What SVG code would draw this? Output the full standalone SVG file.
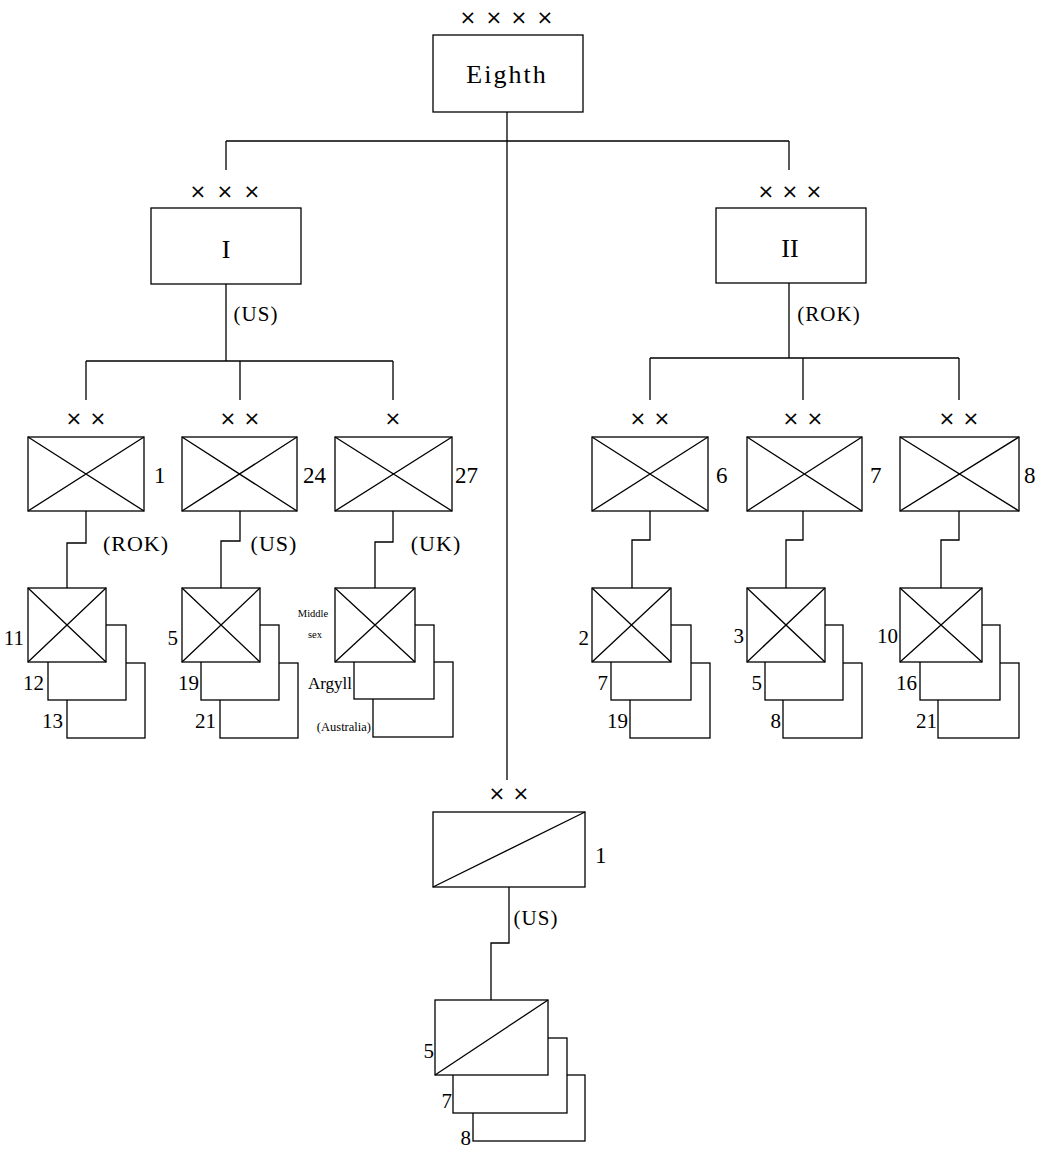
<svg xmlns="http://www.w3.org/2000/svg" width="1039" height="1152" viewBox="0 0 1039 1152">
<style>
.ln{stroke:#000;stroke-width:1.3;fill:none}
.bx{stroke:#000;stroke-width:1.3;fill:#fff}
.sym{font-family:"DejaVu Sans",sans-serif;font-size:20px;text-anchor:middle;fill:#000}
.big{font-family:"Liberation Serif",serif;font-size:26px;text-anchor:middle;fill:#000}
.div{font-family:"Liberation Serif",serif;font-size:23px;fill:#000}
.nat{font-family:"Liberation Serif",serif;font-size:22px;text-anchor:middle;fill:#000;letter-spacing:1px}
.reg{font-family:"Liberation Serif",serif;font-size:21px;text-anchor:end;fill:#000}
.sm{font-family:"Liberation Serif",serif;font-size:10.5px;text-anchor:middle;fill:#000}
</style>
<rect width="1039" height="1152" fill="#fff"/>

<g id="connectors" class="ln">
  <path d="M507,112 V780"/>
  <path d="M226,141 H789"/>
  <path d="M226,141 V170"/>
  <path d="M789,141 V170"/>
  <path d="M226,284 V361"/>
  <path d="M86,361 H393"/>
  <path d="M86,361 V400 M240,361 V400 M393,361 V400"/>
  <path d="M789,283 V358"/>
  <path d="M650,358 H959"/>
  <path d="M650,358 V400 M803,358 V400 M959,358 V400"/>
  <path d="M86,511 V543 H67 V588"/>
  <path d="M240,511 V541 H221 V588"/>
  <path d="M393,511 V542 H375 V588"/>
  <path d="M650,511 V540 H632 V588"/>
  <path d="M803,511 V540 H786 V588"/>
  <path d="M959,511 V540 H941 V588"/>
  <path d="M509,887 V943 H491 V1000"/>
</g>

<g id="eighth-army">
  <text class="sym" x="468 494 519 545" y="24">××××</text>
  <rect class="bx" x="433" y="35" width="150" height="77"/>
  <text class="big" x="507" y="83" style="letter-spacing:2px">Eighth</text>
</g>

<g id="i-corps">
  <text class="sym" x="198 225 252" y="198">×××</text>
  <rect class="bx" x="151" y="208" width="150" height="76"/>
  <text class="big" x="226" y="258">I</text>
  <text class="nat" x="256" y="321" style="font-size:21px">(US)</text>
</g>

<g id="ii-corps">
  <text class="sym" x="766 790 814" y="198">×××</text>
  <rect class="bx" x="716" y="208" width="150" height="75"/>
  <text class="big" x="790" y="257">II</text>
  <text class="nat" x="829" y="321" style="font-size:21px">(ROK)</text>
</g>

<!-- divisions -->
<g id="div-1-rok">
  <text class="sym" x="74 98" y="425">××</text>
  <rect class="bx" x="28" y="437" width="116" height="74"/>
  <path class="ln" d="M28,437 L144,511 M144,437 L28,511"/>
  <text class="div" x="154" y="483">1</text>
  <text class="nat" x="136" y="551">(ROK)</text>
</g>
<g id="div-24-us">
  <text class="sym" x="228 252" y="425">××</text>
  <rect class="bx" x="182" y="437" width="115" height="74"/>
  <path class="ln" d="M182,437 L297,511 M297,437 L182,511"/>
  <text class="div" x="303" y="483">24</text>
  <text class="nat" x="274" y="551">(US)</text>
</g>
<g id="bde-27-uk">
  <text class="sym" x="393" y="425">×</text>
  <rect class="bx" x="335" y="437" width="117" height="74"/>
  <path class="ln" d="M335,437 L452,511 M452,437 L335,511"/>
  <text class="div" x="455" y="483">27</text>
  <text class="nat" x="436" y="551">(UK)</text>
</g>
<g id="div-6-rok">
  <text class="sym" x="638 662" y="425">××</text>
  <rect class="bx" x="592" y="437" width="116" height="74"/>
  <path class="ln" d="M592,437 L708,511 M708,437 L592,511"/>
  <text class="div" x="716" y="483">6</text>
</g>
<g id="div-7-rok">
  <text class="sym" x="791 815" y="425">××</text>
  <rect class="bx" x="747" y="437" width="115" height="74"/>
  <path class="ln" d="M747,437 L862,511 M862,437 L747,511"/>
  <text class="div" x="870" y="483">7</text>
</g>
<g id="div-8-rok">
  <text class="sym" x="947 971" y="425">××</text>
  <rect class="bx" x="900" y="437" width="119" height="74"/>
  <path class="ln" d="M900,437 L1019,511 M1019,437 L900,511"/>
  <text class="div" x="1024" y="483">8</text>
</g>

<!-- 1st ROK regiments -->
<g id="reg-13">
  <rect class="bx" x="67" y="663" width="78" height="75"/>
  <text class="reg" x="63" y="728">13</text>
</g>
<g id="reg-12">
  <rect class="bx" x="48" y="625" width="78" height="75"/>
  <text class="reg" x="44" y="690">12</text>
</g>
<g id="reg-11">
  <rect class="bx" x="28" y="588" width="78" height="74"/>
  <path class="ln" d="M28,588 L106,662 M106,588 L28,662"/>
  <text class="reg" x="24" y="645">11</text>
</g>

<!-- 24th regiments -->
<g id="reg-21-us">
  <rect class="bx" x="220" y="663" width="78" height="75"/>
  <text class="reg" x="216" y="728">21</text>
</g>
<g id="reg-19-us">
  <rect class="bx" x="201" y="625" width="78" height="75"/>
  <text class="reg" x="199" y="690">19</text>
</g>
<g id="reg-5-us">
  <rect class="bx" x="182" y="588" width="78" height="74"/>
  <path class="ln" d="M182,588 L260,662 M260,588 L182,662"/>
  <text class="reg" x="178" y="645">5</text>
</g>

<!-- 27th brigade battalions -->
<g id="bn-australia">
  <rect class="bx" x="373" y="662" width="80" height="75"/>
  <text class="reg" x="371" y="731" style="font-size:12.5px">(Australia)</text>
</g>
<g id="bn-argyll">
  <rect class="bx" x="354" y="625" width="80" height="74"/>
  <text class="reg" x="352" y="689" style="font-size:17px">Argyll</text>
</g>
<g id="bn-middlesex">
  <rect class="bx" x="335" y="588" width="80" height="74"/>
  <path class="ln" d="M335,588 L415,662 M415,588 L335,662"/>
  <text class="sm" x="313" y="617">Middle</text>
  <text class="sm" x="315" y="638">sex</text>
</g>

<!-- 6th ROK regiments -->
<g id="reg-19-rok">
  <rect class="bx" x="630" y="663" width="80" height="75"/>
  <text class="reg" x="628" y="728">19</text>
</g>
<g id="reg-7-rok">
  <rect class="bx" x="611" y="625" width="80" height="75"/>
  <text class="reg" x="608" y="690">7</text>
</g>
<g id="reg-2-rok">
  <rect class="bx" x="592" y="588" width="79" height="74"/>
  <path class="ln" d="M592,588 L671,662 M671,588 L592,662"/>
  <text class="reg" x="589" y="645">2</text>
</g>

<!-- 7th ROK regiments -->
<g id="reg-8-rok">
  <rect class="bx" x="783" y="663" width="79" height="75"/>
  <text class="reg" x="781" y="728">8</text>
</g>
<g id="reg-5-rok">
  <rect class="bx" x="765" y="625" width="78" height="75"/>
  <text class="reg" x="762" y="690">5</text>
</g>
<g id="reg-3-rok">
  <rect class="bx" x="747" y="588" width="78" height="74"/>
  <path class="ln" d="M747,588 L825,662 M825,588 L747,662"/>
  <text class="reg" x="744" y="643">3</text>
</g>

<!-- 8th ROK regiments -->
<g id="reg-21-rok">
  <rect class="bx" x="938" y="663" width="81" height="75"/>
  <text class="reg" x="937" y="728">21</text>
</g>
<g id="reg-16-rok">
  <rect class="bx" x="920" y="625" width="80" height="75"/>
  <text class="reg" x="917" y="690">16</text>
</g>
<g id="reg-10-rok">
  <rect class="bx" x="900" y="588" width="82" height="74"/>
  <path class="ln" d="M900,588 L982,662 M982,588 L900,662"/>
  <text class="reg" x="898" y="643">10</text>
</g>

<!-- 1st Cavalry Division -->
<g id="div-1-cav">
  <text class="sym" x="497 521" y="800">××</text>
  <rect class="bx" x="433" y="812" width="152" height="75"/>
  <path class="ln" d="M433,887 L585,812"/>
  <text class="div" x="595" y="863">1</text>
  <text class="nat" x="536" y="925" style="font-size:21px">(US)</text>
</g>
<g id="cav-8">
  <rect class="bx" x="473" y="1075" width="112" height="66"/>
  <text class="reg" x="471" y="1145">8</text>
</g>
<g id="cav-7">
  <rect class="bx" x="453" y="1038" width="114" height="75"/>
  <text class="reg" x="452" y="1108">7</text>
</g>
<g id="cav-5">
  <rect class="bx" x="435" y="1000" width="113" height="75"/>
  <path class="ln" d="M435,1075 L548,1000"/>
  <text class="reg" x="434" y="1058">5</text>
</g>
</svg>
